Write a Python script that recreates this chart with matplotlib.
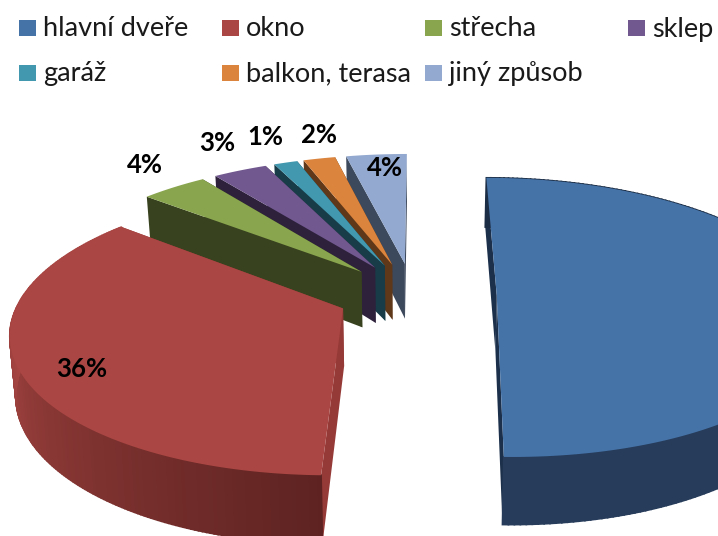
import numpy as np
import matplotlib
matplotlib.use("Agg")
import matplotlib.pyplot as plt
from matplotlib.patches import Polygon, Rectangle

categories = ["hlavní dveře", "okno", "střecha", "sklep", "garáž", "balkon, terasa", "jiný způsob"]
values = [50.3, 35.7, 3.9, 3.2, 1.4, 1.9, 3.6]
explode = [0.26, 0.235, 0.24, 0.24, 0.24, 0.24, 0.24]
top_colors = ["#4572A7", "#AA4643", "#89A54E", "#71588F", "#4198AF", "#DB843D", "#93A9CF"]
wall_colors = ["#1C304B", "#963A37", "#38421E", "#2D213C", "#183C48", "#5F3719", "#3C485C"]

# label positions in pixels, the blue one falls outside the canvas in the original
label_pos = [None, (82, 369), (145, 165), (217, 143), (265, 137), (319, 135), (385, 168)]
legend_pos = [(19, 28), (222, 28), (425, 28), (628, 28), (19, 73), (222, 73), (425, 73)]

# projection of the tilted pie
X0, Y0 = 413, 295
FX, FY = 322, 136
K = 0.157
DEPTH = 57
START = 89.8


def project(x, y, down=False):
    w = 1 + K * y
    px = X0 + FX * x / w
    py = Y0 - FY * y / w
    if down:
        px = X0 + (px - X0) * 0.985
        py = py + DEPTH / w
    return px, py


def rim_color(i, a):
    # side shading, only the two big slices show it
    if i == 0:
        t = np.clip((269 - a) / 50, 0, 1)
        c0, c1 = np.array([38, 60, 90]), np.array([27, 45, 68])
    else:
        t = np.clip((a - 180) / 89, 0, 1)
        c0, c1 = np.array([168, 70, 67]), np.array([94, 35, 33])
    return tuple((c0 + (c1 - c0) * t) / 255)


fig = plt.figure(figsize=(7.18, 5.36), dpi=100)
ax = fig.add_axes([0, 0, 1, 1])
ax.set_xlim(0, 718)
ax.set_ylim(536, 0)
ax.axis("off")

fracs = np.array(values) / sum(values) * 360
ends = START - np.cumsum(fracs)
starts = ends + fracs
slices = []
for i in range(len(values)):
    mid = np.radians((starts[i] + ends[i]) / 2)
    ox = explode[i] * np.cos(mid)
    oy = explode[i] * np.sin(mid)
    angles = np.linspace(starts[i], ends[i], 200)
    rx = ox + np.cos(np.radians(angles))
    ry = oy + np.sin(np.radians(angles))
    slices.append((ox, oy, angles, rx, ry))

# back to front: small slices first, the two big ones last
for i in [6, 5, 4, 3, 2, 1, 0]:
    ox, oy, angles, rx, ry = slices[i]
    apex = project(ox, oy)
    apex_d = project(ox, oy, True)
    for j in [0, -1]:
        rim = project(rx[j], ry[j])
        rim_d = project(rx[j], ry[j], True)
        ax.add_patch(Polygon([rim, rim_d, apex_d, apex], fc=wall_colors[i], ec="none"))
    if i < 2:
        for j in range(len(angles) - 1):
            a = angles[j] % 360
            p1 = project(rx[j], ry[j])
            p2 = project(rx[j + 1], ry[j + 1])
            p3 = project(rx[j + 1], ry[j + 1], True)
            p4 = project(rx[j], ry[j], True)
            c = rim_color(i, a)
            ax.add_patch(Polygon([p1, p2, p3, p4], fc=c, ec=c, lw=1.2))
    px, py = project(rx, ry)
    pts = [apex] + list(zip(px, py))
    ax.add_patch(Polygon(pts, fc=top_colors[i], ec="none"))

for i, pos in enumerate(label_pos):
    if pos is None:
        continue
    ax.text(pos[0], pos[1], f"{values[i]:.0f}%", family="Lato", fontweight="bold", fontsize=18.5,
            color="black", ha="center", va="center")

for i, name in enumerate(categories):
    x, y = legend_pos[i]
    ax.add_patch(Rectangle((x, y - 8), 17, 16, fc=top_colors[i], ec="none"))
    ax.text(x + 24, y + 1, name, family="Lato", fontsize=19.5, color="#1a1a1a", va="center", ha="left")

fig.savefig("out.png", dpi=100)
